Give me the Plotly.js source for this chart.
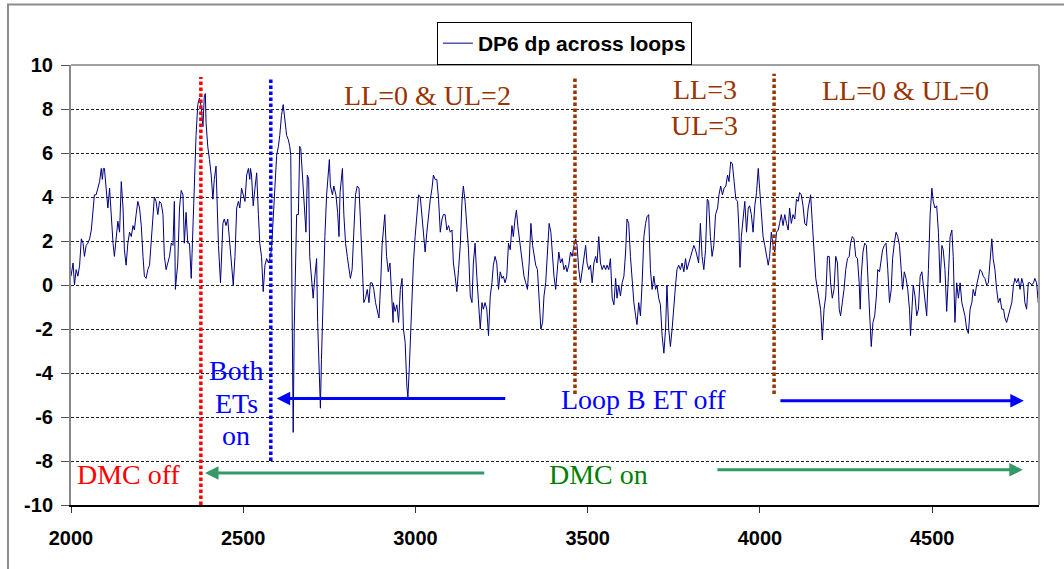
<!DOCTYPE html>
<html>
<head>
<meta charset="utf-8">
<script src="https://cdn.plot.ly/plotly-3.0.1.min.js"></script>
<style>html,body{margin:0;padding:0;background:#fff}#chart{width:1064px;height:569px}</style>
</head>
<body>
<div id="chart"></div>
<script>
// sample index (x) and DP6 dp across loops (y)
const sampleIndex = [
2000,2006,2010,2015,2020,2025,2030,2035,2039,2044,2049,2054,2059,2064,2068,2073,2078,2083,2088,2091,2094,2097,2102,2107,2112,2117,2122,2126,2131,2136,2141,2146,2151,2155,2160,2165,2170,2175,2180,2184,2189,2194,2199,2204,2209,2213,2218,2223,2228,2233,2238,2242,2247,2252,2257,2262,2267,2271,2276,2281,2286,2291,2296,2300,2303,2310,2315,2320,2325,2329,2334,2339,2344,2349,2354,2358,2363,2368,2373,2378,2383,2387,2390,2392,2397,2402,2407,2412,2416,2421,2424,2428,2434,2441,2445,2450,2455,
2461,2466,2471,2476,2481,2486,2490,2495,2500,2505,2510,2515,2519,2521,2524,2529,2534,2539,2544,2548,2553,2558,2563,2568,2573,2577,2582,2587,2592,2597,2602,2606,2611,2616,2621,2626,2631,2635,2638,2640,2643,2645,2648,2652,2655,2660,2664,2667,2671,2676,2682,2686,2690,2693,2698,2703,2708,2713,2716,2719,2722,2724,2727,2732,2737,2742,2747,2750,2753,2759,2763,2769,2774,2778,2781,2785,2788,2792,2797,2802,2807,2811,2816,2821,2826,2831,2836,2840,2845,2850,2855,2860,2865,2869,2874,2879,2884,2889,2894,2899,2903,2908,2911,2916,2921,2926,2930,2935,
2936,2941,2946,2951,2956,2961,2965,2970,2975,2978,2982,2986,2990,2994,2999,3004,3009,3014,3019,3023,3028,3033,3038,3043,3048,3052,3057,3062,3067,3072,3077,3081,3086,3091,3096,3101,3106,3110,3115,3120,3125,3130,3135,3139,3144,3149,3154,3159,3164,3168,3173,3178,3183,3188,3193,3197,3202,3207,3212,3217,3222,3226,3231,3236,3241,3246,3251,3255,3260,3265,3270,3275,3280,3284,3289,3293,3297,3301,3306,3311,3315,3320,3325,3330,3335,3340,3344,3349,3354,3359,3364,3369,3373,3378,3383,3388,3393,3398,
3402,3407,3411,3416,3421,3426,3431,3436,3440,3445,3450,3455,3460,3465,3469,3474,3479,3484,3489,3494,3498,3503,3508,3513,3518,3523,3527,3532,3537,3542,3547,3552,3556,3561,3566,3571,3576,3581,3585,3590,3595,3600,3605,3610,3614,3619,3624,3629,3634,3639,3643,3648,3653,3658,3663,3668,3672,3677,3682,3687,3692,3697,3701,3706,3711,3716,3721,3726,3730,3735,3740,3745,3750,3755,3759,3764,3769,3774,3779,3784,3788,3793,3798,3803,3808,3813,3818,3822,3827,3832,3837,3842,3847,3851,3856,3861,3866,3871,
3877,3881,3886,3891,3896,3901,3906,3910,3915,3920,3925,3930,3935,3939,3942,3946,3951,3956,3961,3966,3970,3975,3980,3985,3990,3995,3999,4004,4009,4014,4019,4024,4028,4033,4038,4043,4048,4053,4057,4062,4067,4072,4077,4082,4086,4091,4096,4101,4106,4111,4115,4120,4125,4130,4135,4140,4145,4147,4152,4157,4162,4167,4172,4176,4181,4186,4191,4196,4201,4205,4210,4215,4220,4225,4230,4234,4239,4244,4249,4254,4259,4263,4268,4273,4278,4283,4288,4291,4294,4299,4304,4309,4314,4319,4323,4328,4333,4338,
4342,4347,4352,4356,4361,4366,4371,4376,4381,4385,4390,4395,4400,4405,4410,4414,4419,4424,4429,4434,4437,4441,4445,4450,4455,4460,4465,4470,4474,4479,4484,4489,4494,4499,4503,4508,4513,4518,4523,4528,4532,4537,4542,4547,4552,4557,4561,4566,4571,4576,4581,4586,4590,4595,4600,4605,4610,4615,4619,4624,4629,4634,4639,4644,4648,4653,4658,4663,4668,4673,4677,4682,4687,4692,4697,4702,4707,4711,4716,4721,4726,4731,4736,4740,4745,4750,4755,4760,4765,4769,4774,4779,4784,4789,4794,4798,4803,4808,4811
];
const dp6Values = [
0.4,1.0,0.0,0.7,0.4,0.9,2.1,1.9,1.3,1.8,1.9,2.1,2.5,3.5,4.1,4.1,4.4,4.7,5.3,4.8,5.3,5.3,4.4,3.5,4.4,3.0,1.9,1.3,2.2,2.9,2.4,4.7,3.5,1.6,0.9,1.9,2.4,2.2,2.7,2.5,3.2,3.8,3.5,2.7,1.3,0.4,0.3,0.7,0.9,2.2,3.3,4.0,3.8,3.2,3.8,3.7,3.2,1.3,0.7,1.0,1.3,1.9,1.8,3.8,-0.2,1.0,3.5,4.3,4.1,1.9,3.3,1.9,1.9,0.3,2.5,5.0,6.8,8.2,8.5,8.1,7.2,8.6,8.7,7.4,6.3,5.7,5.0,3.9,4.8,5.4,3.5,1.8,0.1,2.8,3.0,2.7,3.0,
1.9,1.0,0.0,1.3,3.5,3.8,3.5,4.4,4.1,3.8,5.0,5.3,4.8,5.3,5.0,3.6,4.4,5.1,3.2,1.9,1.3,-0.3,0.9,1.2,1.0,1.2,1.6,3.0,5.0,5.9,6.3,6.8,7.7,8.2,7.5,6.8,6.6,6.3,5.9,0.7,-5.3,-6.7,-2.0,0.4,3.2,3.2,6.3,6.2,5.3,4.1,2.4,5.0,4.8,1.3,0.4,-0.6,0.4,1.2,-1.7,-3.4,-5.0,-5.6,-3.4,0.0,2.2,4.1,5.3,5.7,4.5,4.1,4.5,4.1,3.3,2.2,4.2,4.7,5.3,3.2,1.9,1.3,0.7,0.3,0.7,2.2,4.1,4.5,4.4,3.0,0.7,-0.8,-0.6,-0.2,-0.8,0.1,0.1,-0.2,-0.8,-1.2,-1.5,0.1,1.8,2.7,3.2,1.3,0.6,1.0,-0.5,-1.7,
-0.8,-1.2,-0.9,-1.7,-0.2,0.3,-2.0,-2.6,-4.6,-5.1,-3.8,-2.0,0.1,1.0,2.2,3.0,4.1,4.0,3.2,2.5,1.5,2.4,3.3,3.9,4.4,5.0,4.8,4.8,3.9,2.4,3.0,3.2,3.2,2.5,2.7,2.4,2.5,1.0,0.4,-0.3,0.7,1.8,3.8,4.5,3.8,2.8,1.6,-0.5,-0.8,1.0,1.9,0.4,-1.1,-2.0,-0.8,-1.1,-0.8,-1.1,-2.3,-0.5,0.1,0.9,1.3,1.0,-0.2,0.6,0.3,0.4,0.1,0.4,1.9,1.6,2.7,2.2,3.0,3.4,2.7,2.2,1.8,1.0,0.4,0.1,-0.2,1.0,2.8,1.8,1.3,0.9,0.7,-0.6,-2.0,-1.7,-0.5,0.1,1.6,2.8,2.4,1.3,
0.4,-0.2,0.7,1.5,1.0,1.2,0.7,0.9,0.6,0.9,1.5,1.3,1.8,2.1,1.8,0.7,0.1,0.7,1.3,1.8,1.0,0.7,0.9,0.1,1.0,1.3,1.0,2.2,1.0,0.7,0.9,0.7,0.9,0.7,1.2,-0.6,-0.9,0.3,-0.6,0.0,-0.5,0.1,0.4,1.5,3.0,2.8,1.3,0.0,-0.8,-1.4,-1.8,-0.8,-1.4,0.1,2.2,2.8,3.1,3.2,0.7,-0.2,0.4,-0.2,0.0,-0.6,-0.9,-2.3,-3.1,-2.0,0.0,-2.0,-2.8,-2.0,-0.8,0.0,0.7,0.9,0.7,1.0,0.6,1.2,0.7,1.0,1.3,1.6,1.8,1.6,1.3,1.0,2.8,1.3,0.7,1.6,3.9,3.8,2.2,1.3,1.8,3.2,
3.5,4.1,4.5,4.1,4.4,4.5,5.0,4.7,5.6,5.5,4.7,3.9,3.8,2.5,0.8,2.2,3.0,3.8,2.4,3.5,3.6,3.2,2.4,3.6,4.2,5.3,4.4,3.2,2.2,1.8,1.3,0.9,1.3,2.4,1.8,1.5,2.4,2.5,2.8,3.2,2.7,3.2,2.8,2.5,3.5,2.8,3.2,3.0,3.9,3.8,4.2,4.1,3.6,2.8,2.7,3.5,3.9,4.1,2.8,1.3,0.3,-0.2,-0.8,-1.1,-2.5,-1.1,-0.5,1.3,1.3,0.1,-0.6,-0.2,1.3,1.0,-1.1,-1.4,-0.8,-0.2,0.7,1.2,1.3,1.9,2.2,2.1,1.3,1.2,0.1,-1.1,0.4,1.5,1.9,1.8,0.1,-1.8,-2.8,-1.7,-1.4,-0.5,
0.7,0.6,1.2,1.6,1.8,1.9,0.7,-0.8,-0.2,1.2,1.9,2.4,2.2,1.8,0.7,-0.2,0.6,0.3,-0.2,-1.1,-2.3,-0.8,0.0,-0.5,-1.4,-1.1,0.4,0.6,0.1,-0.5,-1.4,0.7,3.2,4.4,3.8,3.5,3.6,2.4,0.1,1.8,1.6,0.7,-1.2,0.4,2.2,2.5,1.3,-1.7,0.1,-0.6,0.1,-0.8,-1.1,-1.4,-2.0,-2.2,-1.1,-0.8,-0.2,-0.5,0.0,0.4,0.7,0.6,0.4,0.3,0.0,0.1,1.3,2.1,1.2,0.7,-0.2,-0.8,-0.6,-1.1,-1.1,-1.5,-1.7,-1.4,-1.2,-0.8,0.0,0.3,0.1,0.3,-0.2,0.3,0.0,-0.8,-1.1,0.1,0.1,0.0,0.1,0.3,0.1,-0.8,-0.2
];
const seriesName = 'DP6 dp across loops';
const xTicks = [2000, 2500, 3000, 3500, 4000, 4500];
const xTickText = ['2000', '2500', '3000', '3500', '4000', '4500'];
const yTicks = [-10, -8, -6, -4, -2, 0, 2, 4, 6, 8, 10];
const yTickText = ['-10', '-8', '-6', '-4', '-2', '0', '2', '4', '6', '8', '10'];

// event markers (sample index) and their vertical extents
const eventLines = [
  {x: 2377, y0: -10, y1: 9.45, color: '#FF0000'},
  {x: 2580, y0: -8, y1: 9.45, color: '#0000FF'},
  {x: 3463, y0: -4.95, y1: 9.45, color: '#993300'},
  {x: 4041, y0: -4.95, y1: 9.6, color: '#993300'}
];
const labels = [
  {text: 'LL=0 &amp; UL=2', x: 3036, y: 8.62, color: '#993300'},
  {text: 'LL=3', x: 3840, y: 8.9, color: '#993300'},
  {text: 'UL=3', x: 3840, y: 7.25, color: '#993300'},
  {text: 'LL=0 &amp; UL=0', x: 4422, y: 8.85, color: '#993300'},
  {text: 'Both', x: 2479, y: -3.9, color: '#0000FF'},
  {text: 'ETs', x: 2479, y: -5.4, color: '#0000FF'},
  {text: 'on', x: 2479, y: -6.85, color: '#0000FF'},
  {text: 'Loop B ET off', x: 3663, y: -5.2, color: '#0000FF'},
  {text: 'DMC off', x: 2167, y: -8.6, color: '#FF0000'},
  {text: 'DMC on', x: 3531, y: -8.62, color: '#008000'}
];
const arrows = [
  {from: 3265, to: 2597, y: -5.16, color: '#0000FF'},
  {from: 4055, to: 4766, y: -5.26, color: '#0000FF'},
  {from: 3204, to: 2389, y: -8.55, color: '#339966'},
  {from: 3872, to: 4763, y: -8.40, color: '#339966'}
];

const shapes = [];
eventLines.forEach(e => shapes.push({type: 'line', xref: 'x', yref: 'y', x0: e.x, x1: e.x, y0: e.y0, y1: e.y1,
  line: {color: e.color, width: 3.5, dash: '3.5px,2.5px'}}));
// plot area top/right border
shapes.push({type: 'line', xref: 'paper', yref: 'paper', x0: 0, x1: 1, y0: 1, y1: 1, line: {color: '#A0A0A0', width: 2}});
shapes.push({type: 'line', xref: 'paper', yref: 'paper', x0: 1, x1: 1, y0: 0, y1: 1, line: {color: '#A0A0A0', width: 2}});
// outer chart frame
shapes.push({type: 'rect', xref: 'paper', yref: 'paper', x0: -0.0651, x1: 1.04, y0: -0.2, y1: 1.1375, line: {color: '#8C8C8C', width: 2}});

const annotations = [];
labels.forEach(l => annotations.push({text: l.text, x: l.x, y: l.y, xref: 'x', yref: 'y', showarrow: false,
  xanchor: 'center', yanchor: 'middle', font: {family: '"Liberation Serif", "Times New Roman", serif', size: 28, color: l.color}}));
arrows.forEach(a => annotations.push({text: '', x: a.to, y: a.y, ax: a.from, ay: a.y, xref: 'x', yref: 'y', axref: 'x', ayref: 'y',
  showarrow: true, arrowhead: 2, arrowsize: 0.9, arrowwidth: 3, arrowcolor: a.color, standoff: 0, startstandoff: 0}));

const tickFont = {family: 'Arial, "Liberation Sans", sans-serif', size: 20, color: '#000', weight: 'bold'};

Plotly.newPlot('chart', [{
  type: 'scatter', mode: 'lines', name: seriesName,
  x: sampleIndex, y: dp6Values,
  line: {color: '#000080', width: 1}
}], {
  width: 1064, height: 569,
  margin: {l: 71, r: 25, t: 65, b: 64},
  paper_bgcolor: '#fff', plot_bgcolor: '#fff',
  showlegend: true,
  legend: {x: 0.378, y: 1, xanchor: 'left', yanchor: 'bottom', bgcolor: '#fff', bordercolor: '#000', borderwidth: 1,
    font: {family: 'Arial, "Liberation Sans", sans-serif', size: 21, color: '#000', weight: 'bold'}},
  xaxis: {range: [2000, 4810], tickvals: xTicks, ticktext: xTickText, showgrid: false, zeroline: false,
    showline: true, linecolor: '#000', linewidth: 1.5, ticks: 'outside', ticklen: 6, tickcolor: '#333', tickwidth: 1,
    tickfont: tickFont, ticklabelstandoff: 8},
  yaxis: {range: [-10, 10], tickvals: yTicks, ticktext: yTickText, showgrid: true, gridcolor: '#222', gridwidth: 1, griddash: '3px,2px', zeroline: false,
    showline: true, linecolor: '#888', linewidth: 2, ticks: 'outside', ticklen: 8, tickcolor: '#555', tickwidth: 1,
    tickfont: tickFont, ticklabelstandoff: 4},
  shapes: shapes,
  annotations: annotations
}, {displayModeBar: false, staticPlot: true});
</script>
</body>
</html>
